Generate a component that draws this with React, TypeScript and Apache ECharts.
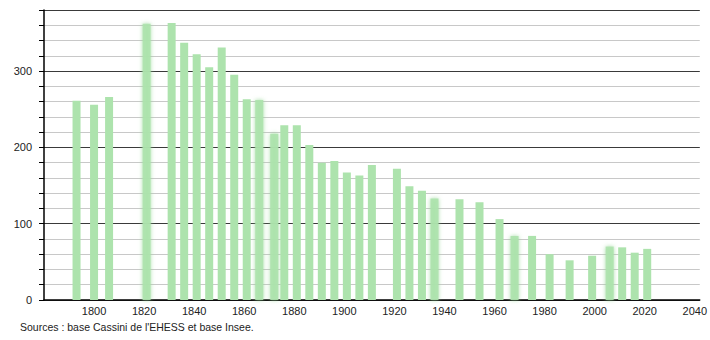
import React, { useEffect, useRef } from "react";
import * as echarts from "echarts";

const years = [
  1793, 1800, 1806, 1821, 1831, 1836, 1841, 1846, 1851, 1856, 1861, 1866, 1872,
  1876, 1881, 1886, 1891, 1896, 1901, 1906, 1911, 1921, 1926, 1931, 1936, 1946,
  1954, 1962, 1968, 1975, 1982, 1990, 1999, 2006, 2011, 2016, 2021,
];
const population = [
  261, 256, 266, 362, 363, 337, 322, 305, 331, 295, 263, 262, 218,
  229, 229, 203, 180, 182, 167, 163, 177, 172, 149, 143, 133, 132,
  128, 106, 84, 84, 60, 52, 58, 70, 69, 62, 67,
];
const xTickLabels = ["1800", "1820", "1840", "1860", "1880", "1900", "1920", "1940", "1960", "1980", "2000", "2020", "2040"];
const yTickLabels = ["0", "100", "200", "300"];
const sourceText = "Sources : base Cassini de l'EHESS et base Insee.";

const softYears = [1821, 1866, 1872, 1936, 1968, 2006];

export default function App() {
  const ref = useRef<HTMLDivElement>(null);
  useEffect(() => {
    document.body.style.margin = "0";
    if (!ref.current) return;
    const chart = echarts.init(ref.current, null, { renderer: "svg" });
    const barColor = "#ade3ad";
    const font = "'Liberation Sans', Arial, sans-serif";
    chart.setOption({
      animation: false,
      backgroundColor: "#ffffff",
      grid: { left: 44, right: 10, top: 10, bottom: 40, containLabel: false },
      xAxis: {
        type: "value",
        min: 1780,
        max: 2042,
        interval: 20,
        axisLine: { show: true, onZero: false, lineStyle: { color: "#000", width: 1.5 } },
        axisTick: { show: false },
        splitLine: { show: false },
        axisLabel: {
          color: "#222",
          fontSize: 11,
          fontFamily: font,
          margin: 5,
          showMinLabel: false,
          showMaxLabel: false,
          formatter: (v: number) => (xTickLabels.includes(String(v)) ? String(v) : ""),
        },
      },
      yAxis: [
        {
          type: "value",
          min: 0,
          max: 380,
          interval: 20,
          axisLine: { show: true, lineStyle: { color: "#000", width: 1.5 } },
          axisTick: { show: true, inside: false, length: 5, lineStyle: { color: "#000" } },
          splitLine: { show: true, lineStyle: { color: "#c8c8c8", width: 1 } },
          axisLabel: {
            color: "#222",
            fontSize: 11,
            fontFamily: font,
            margin: 12,
            formatter: (v: number) => (yTickLabels.includes(String(v)) ? String(v) : ""),
          },
        },
        {
          type: "value",
          min: 0,
          max: 380,
          interval: 100,
          position: "left",
          axisLine: { show: false },
          axisTick: { show: false },
          axisLabel: { show: false },
          splitLine: { show: true, lineStyle: { color: "#3a3a3a", width: 1 } },
        },
      ],
      series: [
        {
          type: "bar",
          yAxisIndex: 0,
          barWidth: 8,
          z: 3,
          data: years.map((y, i) => {
            const soft = softYears.includes(y);
            return {
              value: [y, population[i]],
              itemStyle: soft
                ? { color: barColor, opacity: 0.9, shadowBlur: 4, shadowColor: "rgba(150,215,150,0.9)" }
                : { color: barColor },
            };
          }),
        },
      ],
      graphic: [
        {
          type: "text",
          left: 20,
          top: 321,
          style: { text: sourceText, fill: "#222", font: `10.5px ${font}` },
        },
      ],
    });
    return () => chart.dispose();
  }, []);
  return <div ref={ref} style={{ width: 710, height: 340 }} />;
}
